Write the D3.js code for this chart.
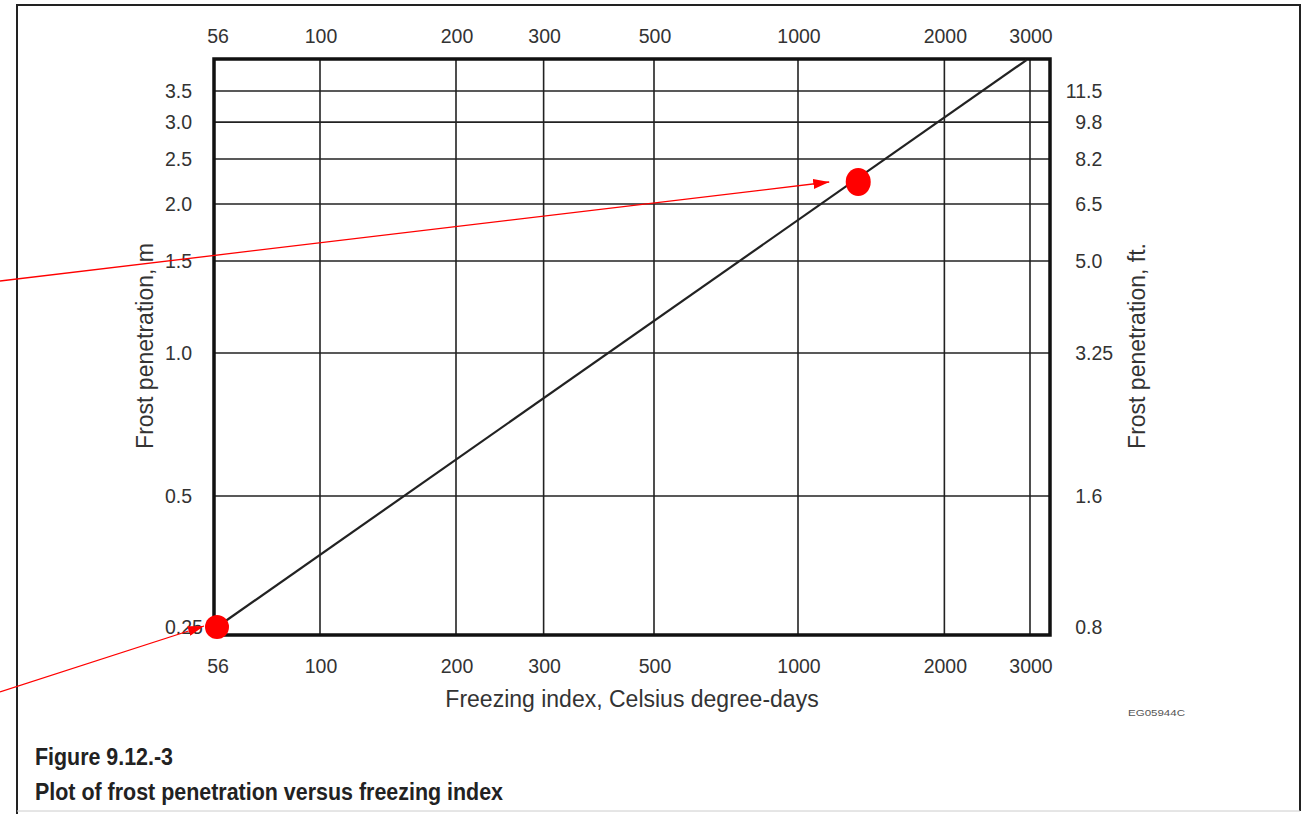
<!DOCTYPE html>
<html>
<head>
<meta charset="utf-8">
<script src="https://cdn.jsdelivr.net/npm/d3@7"></script>
<style>
    body { margin: 0; background: #fff; }
    text { font-family: "Liberation Sans", Arial, Helvetica, sans-serif; fill: #333; }
</style>
</head>
<body>
<div id="chart"></div>
<script>
// chart values
let xTicks = [56, 100, 200, 300, 500, 1000, 2000, 3000];
let xGrid = [100, 200, 300, 500, 1000, 2000, 3000];
let yTicks = [0.25, 0.5, 1.0, 1.5, 2.0, 2.5, 3.0, 3.5];
let yTickLabels = ['0.25', '0.5', '1.0', '1.5', '2.0', '2.5', '3.0', '3.5'];
let yGrid = [0.5, 1.0, 1.5, 2.0, 2.5, 3.0, 3.5];
let ftLabels = ['0.8', '1.6', '3.25', '5.0', '6.5', '8.2', '9.8', '11.5'];

// frost penetration line (freezing index, depth m)
let lineIndex = [56, 2950];
let lineDepth = [0.25, 4.08];

// red markers
let markIndex = [56, 1330];
let markDepth = [0.25, 2.23];

let svgWidth = 1303;
let svgHeight = 814;

let frame = { left: 214, top: 59, right: 1050, bottom: 635 };

let svg = d3.select('#chart')
    .append('svg')
    .attr('width', svgWidth)
    .attr('height', svgHeight);

// the printed chart is not quite a true log grid, so the scales are pinned at a few ticks
let xScale = d3.scaleLog()
    .domain([56, 100, 200, 500, 1000, 3000])
    .range([217, 320, 456, 654, 798, 1030]);
let yScale = d3.scaleLog()
    .domain([0.25, 0.5, 1.0, 1.5, 2.0, 3.5])
    .range([627, 496, 353, 261, 204, 91]);

// page border
svg.append('path')
    .attr('d', `M17,814 V5 H1300 V811`)
    .attr('fill', 'none')
    .attr('stroke', '#222')
    .attr('stroke-width', 2);
svg.append('line')
    .attr('x1', 17).attr('x2', 1300)
    .attr('y1', 811).attr('y2', 811)
    .attr('stroke', '#ccc')
    .attr('stroke-width', 1);

// grid lines
let grid = svg.append('g');
grid.selectAll('.vgrid')
    .data(xGrid)
    .enter()
    .append('line')
    .attr('x1', d => xScale(d))
    .attr('x2', d => xScale(d))
    .attr('y1', frame.top)
    .attr('y2', frame.bottom)
    .attr('stroke', '#222')
    .attr('stroke-width', 1.6);
grid.selectAll('.hgrid')
    .data(yGrid)
    .enter()
    .append('line')
    .attr('x1', frame.left)
    .attr('x2', frame.right)
    .attr('y1', d => yScale(d))
    .attr('y2', d => yScale(d))
    .attr('stroke', '#222')
    .attr('stroke-width', 1.6);

// frame
svg.append('rect')
    .attr('x', frame.left)
    .attr('y', frame.top)
    .attr('width', frame.right - frame.left)
    .attr('height', frame.bottom - frame.top)
    .attr('fill', 'none')
    .attr('stroke', '#111')
    .attr('stroke-width', 3.5);

// top and bottom x tick labels
['top', 'bottom'].forEach(function(side) {
    svg.append('g').selectAll('text')
        .data(xTicks)
        .enter()
        .append('text')
        .attr('x', d => xScale(d) + 1)
        .attr('y', side == 'top' ? 43 : 673)
        .attr('text-anchor', 'middle')
        .style('font-size', '19.5px')
        .text(d => d);
});

// left labels (m)
svg.append('g').selectAll('text')
    .data(yTicks)
    .enter()
    .append('text')
    .attr('x', 165)
    .attr('y', d => yScale(d) + 7)
    .style('font-size', '19.5px')
    .text((d, i) => yTickLabels[i]);

// right labels (ft), lined up on the decimal point
let ftGroup = svg.append('g');
ftGroup.selectAll('.ftint')
    .data(yTicks)
    .enter()
    .append('text')
    .attr('x', 1086)
    .attr('y', d => yScale(d) + 7)
    .attr('text-anchor', 'end')
    .style('font-size', '19.5px')
    .text((d, i) => ftLabels[i].split('.')[0]);
ftGroup.selectAll('.ftfrac')
    .data(yTicks)
    .enter()
    .append('text')
    .attr('x', 1086)
    .attr('y', d => yScale(d) + 7)
    .style('font-size', '19.5px')
    .text((d, i) => '.' + ftLabels[i].split('.')[1]);

// axis titles
svg.append('text')
    .attr('x', 632)
    .attr('y', 707)
    .attr('text-anchor', 'middle')
    .style('font-size', '23px')
    .text('Freezing index, Celsius degree-days');
svg.append('text')
    .attr('transform', 'translate(153, 346) rotate(-90)')
    .attr('text-anchor', 'middle')
    .style('font-size', '23px')
    .text('Frost penetration, m');
svg.append('text')
    .attr('transform', 'translate(1145, 346) rotate(-90)')
    .attr('text-anchor', 'middle')
    .style('font-size', '23px')
    .text('Frost penetration, ft.');

// the frost line
let frostLine = d3.line()
    .x(d => xScale(d[0]))
    .y(d => yScale(d[1]));
svg.append('path')
    .datum(d3.zip(lineIndex, lineDepth))
    .attr('d', frostLine)
    .attr('fill', 'none')
    .attr('stroke', '#222')
    .attr('stroke-width', 2.2);

// red arrows pointing at the markers
svg.append('defs').append('marker')
    .attr('id', 'head')
    .attr('viewBox', '0 0 16 10')
    .attr('refX', 16)
    .attr('refY', 5)
    .attr('markerWidth', 16)
    .attr('markerHeight', 10)
    .attr('markerUnits', 'userSpaceOnUse')
    .attr('orient', 'auto')
    .append('path')
    .attr('d', 'M0,0 L16,5 L0,10 Z')
    .attr('fill', '#f00');

let arrowStartY = [692, 281];
let arrowGap = [13, 29];
svg.append('g').selectAll('line')
    .data(d3.range(markIndex.length))
    .enter()
    .append('line')
    .attr('x1', 0)
    .attr('y1', i => arrowStartY[i])
    .attr('x2', i => xScale(markIndex[i]) - arrowGap[i])
    .attr('y2', i => yScale(markDepth[i]) - (i == 0 ? 1 : 0))
    .attr('stroke', '#f00')
    .attr('stroke-width', 1.3)
    .attr('marker-end', 'url(#head)');

svg.append('g').selectAll('ellipse')
    .data(d3.range(markIndex.length))
    .enter()
    .append('ellipse')
    .attr('cx', i => xScale(markIndex[i]))
    .attr('cy', i => yScale(markDepth[i]))
    .attr('rx', i => i == 0 ? 12 : 12.5)
    .attr('ry', i => i == 0 ? 12 : 14)
    .attr('fill', '#f00');

// figure id and caption
svg.append('text')
    .attr('x', 1128)
    .attr('y', 716)
    .style('font-size', '9px')
    .style('fill', '#555')
    .attr('textLength', 57)
    .attr('lengthAdjust', 'spacingAndGlyphs')
    .text('EG05944C');
svg.append('text')
    .attr('x', 35)
    .attr('y', 765)
    .style('font-size', '23px')
    .style('font-weight', 'bold')
    .style('fill', '#222')
    .attr('textLength', 138)
    .attr('lengthAdjust', 'spacingAndGlyphs')
    .text('Figure 9.12.-3');
svg.append('text')
    .attr('x', 35)
    .attr('y', 800)
    .style('font-size', '23px')
    .style('font-weight', 'bold')
    .style('fill', '#222')
    .attr('textLength', 468)
    .attr('lengthAdjust', 'spacingAndGlyphs')
    .text('Plot of frost penetration versus freezing index');
</script>
</body>
</html>
